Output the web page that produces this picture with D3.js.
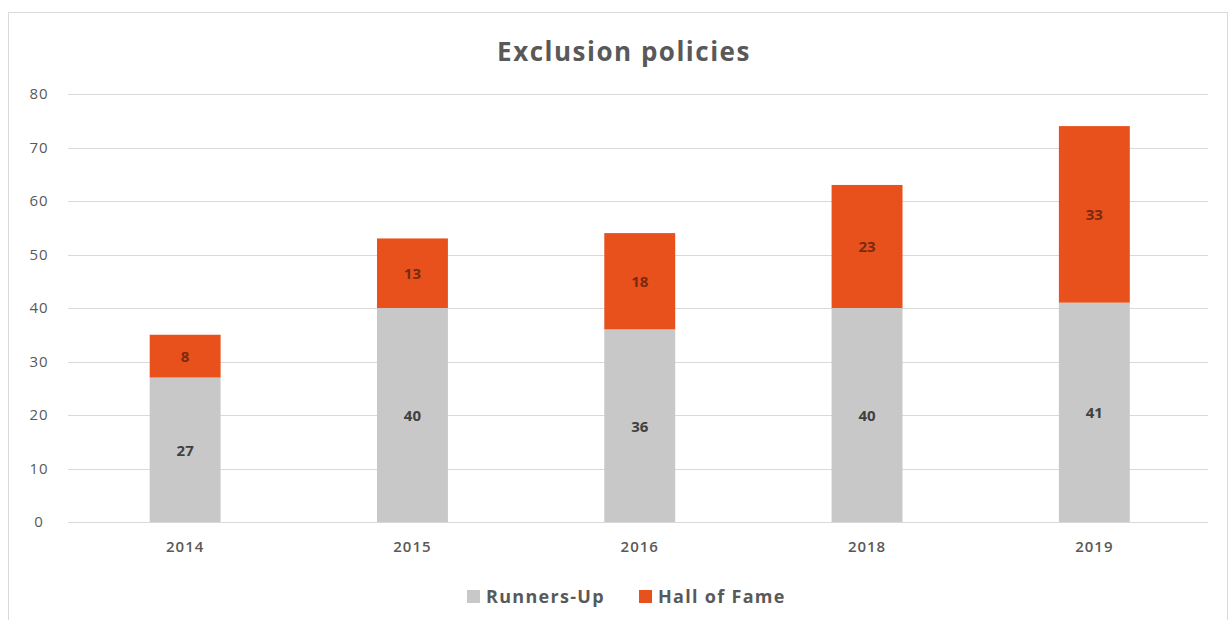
<html>
<head>
<script src="https://d3js.org/d3.v7.min.js"></script>
<style>
  body { margin: 0; background: #fff; font-family: "Open Sans", "DejaVu Sans", sans-serif; }
  .grid line { stroke: #d9d9d9; }
  .axis text { fill: #595959; font-family: "Open Sans", sans-serif; font-size: 15px; letter-spacing: 1px; }
</style>
</head>
<body>
<div id="viz"></div>
<script>
const years = ["2014", "2015", "2016", "2018", "2019"];
const runnersUp = [27, 40, 36, 40, 41];
const hallOfFame = [8, 13, 18, 23, 33];
const seriesNames = ["Runners-Up", "Hall of Fame"];
const colors = ["#c8c8c8", "#e8501c"];
const yTicks = [0, 10, 20, 30, 40, 50, 60, 70, 80];

const W = 1231, H = 620;
const margin = { top: 94, right: 23, bottom: 98, left: 68 };
const innerW = W - margin.left - margin.right,
      innerH = H - margin.top - margin.bottom;

const svg = d3.select("#viz").append("svg").attr("width", W).attr("height", H);

// chart frame
svg.append("rect").attr("x", 8.5).attr("y", 12.5).attr("width", 1219).attr("height", 620)
   .attr("fill", "none").attr("stroke", "#d9d9d9");

svg.append("text").attr("x", 624).attr("y", 61).attr("text-anchor", "middle")
   .style("font-size", "26px").style("font-weight", "bold").style("fill", "#595959")
   .style("letter-spacing", "1.5px")
   .text("Exclusion policies");

const g = svg.append("g").attr("transform", `translate(${margin.left},${margin.top})`);

const x = d3.scaleBand().domain(years).range([3.5, innerW]).paddingInner(0.688).paddingOuter(0.344);
const y = d3.scaleLinear().domain([0, 80]).range([innerH, 0]);

// gridlines
g.append("g").attr("class", "grid")
  .selectAll("line").data(yTicks).join("line")
  .attr("x1", 0).attr("x2", innerW)
  .attr("y1", d => Math.round(y(d)) + 0.5).attr("y2", d => Math.round(y(d)) + 0.5);

// y axis labels
const yAxis = g.append("g").attr("class", "axis")
  .call(d3.axisLeft(y).tickValues(yTicks).tickSize(0).tickPadding(29));
yAxis.select(".domain").remove();
yAxis.selectAll("text").attr("text-anchor", "middle").attr("dx", "0");

// x axis labels
const xAxis = g.append("g").attr("class", "axis").attr("transform", `translate(0,${innerH})`)
  .call(d3.axisBottom(x).tickSize(0).tickPadding(19));
xAxis.select(".domain").remove();
xAxis.selectAll("text").style("font-weight", "600");

const rows = years.map((yr, i) => ({ year: yr, vals: [runnersUp[i], hallOfFame[i]] }));
const stacked = d3.stack().keys([0, 1]).value((d, k) => d.vals[k])(rows);

const layers = g.selectAll(".layer").data(stacked).join("g")
  .attr("fill", (d, i) => colors[i]);

layers.selectAll("rect").data(d => d).join("rect")
  .attr("x", d => x(d.data.year))
  .attr("y", d => y(d[1]))
  .attr("width", x.bandwidth())
  .attr("height", d => y(d[0]) - y(d[1]));

layers.selectAll("text").data(d => d).join("text")
  .attr("x", d => x(d.data.year) + x.bandwidth() / 2)
  .attr("y", d => (y(d[0]) + y(d[1])) / 2 + 6)
  .attr("text-anchor", "middle")
  .style("font-size", "15px").style("font-weight", "bold")
  .style("fill", (d, i, n) => n[i].parentNode.__data__.key === 1 ? "#7a2a10" : "#404040")
  .text(d => d[1] - d[0]);

// legend
const legend = svg.append("g").attr("transform", "translate(467,596)");
const items = [{ name: seriesNames[0], x: 0 }, { name: seriesNames[1], x: 172 }];
items.forEach((it, i) => {
  legend.append("rect").attr("x", it.x).attr("y", -6).attr("width", 13).attr("height", 13).attr("fill", colors[i]);
  legend.append("text").attr("x", it.x + 19).attr("y", 7)
    .style("font-size", "18px").style("font-weight", "bold").style("fill", "#595959")
    .style("letter-spacing", "1.3px")
    .text(it.name);
});
</script>
</body>
</html>
